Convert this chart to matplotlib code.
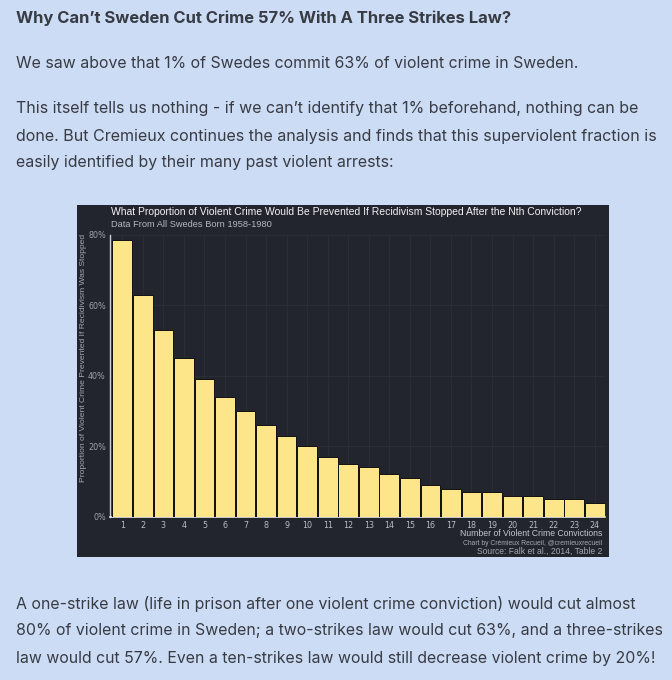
import numpy as np
import matplotlib
matplotlib.use('Agg')
import matplotlib.pyplot as plt
from matplotlib.patches import Rectangle
from matplotlib.ticker import FuncFormatter

W, H = 672, 680

# chart data
convictions = list(range(1, 25))
prevented = [78.5, 63, 53, 45, 39, 34, 30, 26, 23, 20, 17, 15,
             14, 12, 11, 9, 8, 7, 7, 6, 6, 5, 5, 4]
y_ticks = [0, 20, 40, 60, 80]

heading = "Why Can\u2019t Sweden Cut Crime 57% With A Three Strikes Law?"
para1 = ["We saw above that 1% of Swedes commit 63% of violent crime in Sweden."]
para2 = ["This itself tells us nothing - if we can\u2019t identify that 1% beforehand, nothing can be",
         "done. But Cremieux continues the analysis and finds that this superviolent fraction is",
         "easily identified by their many past violent arrests:"]
para3 = ["A one-strike law (life in prison after one violent crime conviction) would cut almost",
         "80% of violent crime in Sweden; a two-strikes law would cut 63%, and a three-strikes",
         "law would cut 57%. Even a ten-strikes law would still decrease violent crime by 20%!"]

chart_title = "What Proportion of Violent Crime Would Be Prevented If Recidivism Stopped After the Nth Conviction?"
chart_sub = "Data From All Swedes Born 1958-1980"
y_label = "Proportion of Violent Crime Prevented If Recidivism Was Stopped"
x_label = "Number of Violent Crime Convictions"
caption = ["Chart by Cr\u00e9mieux Recueil, @cremieuxrecueil",
           "Source: Falk et al., 2014, Table 2"]

PAGE_BG = '#cddcf5'
PANEL_BG = '#22252e'
TEXT = '#373b43'
BAR = '#fde68a'

fig = plt.figure(figsize=(W / 100, H / 100), dpi=100)
fig.patch.set_facecolor(PAGE_BG)
renderer = fig.canvas.get_renderer()


def px(x, y):
    return x / W, 1 - y / H


def fit(t, width):
    # scale font so the text spans the width seen in the reference
    bb = t.get_window_extent(renderer)
    t.set_fontsize(t.get_fontsize() * width / bb.width)
    return t


def page_text(s, x, y, x_end, bold=False):
    t = fig.text(*px(x, y), s, ha='left', va='center', color=TEXT,
                 family='Inter', fontsize=12,
                 fontweight='bold' if bold else 'normal')
    return fit(t, x_end - x)


# article text
page_text(heading, 16, 18, 512, bold=True)
page_text(para1[0], 16, 63, 578)
for s, y, xe in zip(para2, [108, 136, 163], [638, 655, 393]):
    page_text(s, 16, y, xe)
for s, y, xe in zip(para3, [604, 631, 658], [634, 662, 655]):
    page_text(s, 16, y, xe)

# dark chart panel
x0, y0, x1, y1 = 77, 205, 609, 557
fig.add_artist(Rectangle(px(x0, y1), (x1 - x0) / W, (y1 - y0) / H,
                         transform=fig.transFigure, facecolor=PANEL_BG,
                         edgecolor='none', zorder=0))

ax_l, ax_r, ax_b, ax_t = 110, 605, 516.7, 234.8
ax = fig.add_axes([ax_l / W, 1 - ax_b / H, (ax_r - ax_l) / W, (ax_b - ax_t) / H])
ax.set_facecolor(PANEL_BG)
ax.bar(convictions, prevented, width=0.96, color=BAR, edgecolor='#111111',
       linewidth=0.7, zorder=3)
ax.set_xlim(0.4, 24.5)
ax.set_ylim(0, 80)
ax.set_xticks(convictions)
ax.set_yticks(y_ticks)
ax.yaxis.set_major_formatter(FuncFormatter(lambda v, p: f'{v:.0f}%'))
ax.tick_params(length=0, labelsize=5.8, pad=3)
for lab in ax.get_xticklabels():
    lab.set_color('#b8bcc4')
for lab in ax.get_yticklabels():
    lab.set_color('#9ea2aa')
ax.grid(True, color='#2c2f38', linewidth=0.6, zorder=0)
for side in ['top', 'right']:
    ax.spines[side].set_visible(False)
ax.spines['left'].set_color('#d0d0d0')
ax.spines['bottom'].set_color('#e8e8e8')
ax.spines['left'].set_linewidth(1.0)
ax.spines['bottom'].set_linewidth(1.2)

# chart labels
t = fig.text(*px(110.7, 212.3), chart_title, ha='left', va='center',
             color='#f2f2f2', family='Liberation Sans', fontsize=8)
fit(t, 584 - 110.7)
t = fig.text(*px(110.7, 225), chart_sub, ha='left', va='center',
             color='#b4b7bd', family='Liberation Sans', fontsize=7)
fit(t, 271 - 110.7)
t = fig.text(*px(83.5, 358), y_label, ha='center', va='center', rotation=90,
             color='#a4a8b0', family='Liberation Sans', fontsize=6)
bb = t.get_window_extent(renderer)
t.set_fontsize(t.get_fontsize() * 250 / bb.height)
t = fig.text(*px(602, 533.5), x_label, ha='right', va='center',
             color='#c4c7cd', family='Liberation Sans', fontsize=7)
fit(t, 602 - 460.7)
t = fig.text(*px(602, 543.5), caption[0], ha='right', va='center',
             color='#a4a8b0', family='Liberation Sans', fontsize=5)
fit(t, 602 - 460)
t = fig.text(*px(602, 551.5), caption[1], ha='right', va='center',
             color='#a4a8b0', family='Liberation Sans', fontsize=5)
fit(t, 602 - 475)

fig.savefig('out.png', dpi=100, facecolor=PAGE_BG)
